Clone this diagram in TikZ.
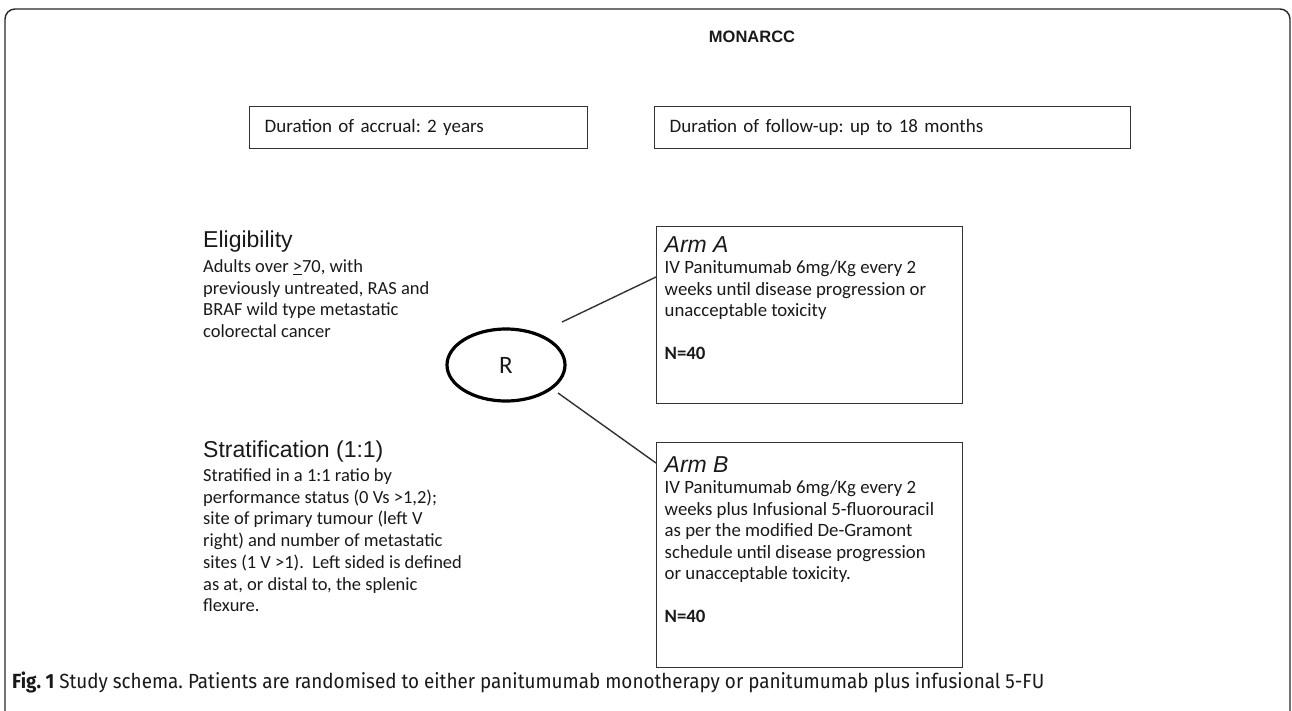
\documentclass[tikz,border=0pt]{standalone}
\usepackage{fontspec}
\setmainfont{Carlito}
\newfontfamily\arialfont{Liberation Sans}
\newfontfamily\capfont[FakeStretch=0.92]{Fira Sans}
\usetikzlibrary{shapes.geometric}
\tikzset{every node/.style={inner sep=0pt, text=black!90}}
\tikzset{box/.style={draw=black!80, line width=1.4pt, anchor=north west, align=left}}
\tikzset{blocktext/.style={anchor=north west, align=left, font=\fontsize{18.5}{21.7}\selectfont}}
\tikzset{link/.style={draw=black!80, line width=1.4pt}}
\newcommand{\headfont}{\arialfont\fontsize{23}{26}\selectfont}
\newcommand{\armtext}{\fontsize{18.8}{21.5}\selectfont}
\frenchspacing

\begin{document}
\begin{tikzpicture}[x=1pt, y=-1pt]
\useasboundingbox (0,0) rectangle (1292,710);
\draw[black!85, line width=1.4pt, rounded corners=10pt] (5,715) -- (5,9) -- (1290,9) -- (1290,715);

\node[font=\arialfont\bfseries\fontsize{16.5}{18}\selectfont] (title) at (752,37) {MONARCC};

\node[box, minimum height=42pt, text width=308pt, inner xsep=15pt, font=\fontsize{19}{22}\selectfont] (accrual) at (249,106) {Duration of accrual: 2 years};
\node[box, minimum height=42pt, text width=446pt, inner xsep=15pt, font=\fontsize{19}{22}\selectfont] (followup) at (654,106) {Duration of follow-up: up to 18 months};

\node[blocktext] (elig) at (203,231) {{\headfont Eligibility}\\[3pt]
Adults over \underline{>}70, with\\
previously untreated, RAS and\\
BRAF wild type metastatic\\
colorectal cancer};

\node[blocktext] (strat) at (203,441) {{\headfont Stratification (1:1)}\\[2pt]
Stratified in a 1:1 ratio by\\
performance status (0 Vs >1,2);\\
site of primary tumour (left V\\
right) and number of metastatic\\
sites (1 V >1).\ \ Left sided is defined\\
as at, or distal to, the splenic\\
flexure.};

\node[draw=black, line width=3.2pt, ellipse, minimum width=118pt, minimum height=72pt, font=\fontsize{25}{28}\selectfont] (rand) at (506,365) {R};

\node[box, inner xsep=8pt, inner ysep=9.5pt] (armA) at (656,226) {\parbox[c][158pt][t]{290pt}{\armtext
{\headfont\itshape Arm A}\\
IV Panitumumab 6mg/Kg every 2\\
weeks until disease progression or\\
unacceptable toxicity\\[21.5pt]
\textbf{N=40}}};

\node[box, inner xsep=8pt, inner ysep=13.5pt] (armB) at (656,442) {\parbox[c][198pt][t]{290pt}{\armtext
{\headfont\itshape Arm B}\\
IV Panitumumab 6mg/Kg every 2\\
weeks plus Infusional 5-fluorouracil\\
as per the modified De-Gramont\\
schedule until disease progression\\
or unacceptable toxicity.\\[21.5pt]
\textbf{N=40}}};

\coordinate (rA) at (562,322);
\coordinate (rB) at (558,393);
\draw[link] (rA) -- (armA.west |- 0,277);
\draw[link] (rB) -- (armB.west |- 0,463);

\node[anchor=west, font=\capfont\fontsize{20.5}{24}\selectfont] (caption) at (12,682) {\textbf{Fig. 1} Study schema. Patients are randomised to either panitumumab monotherapy or panitumumab plus infusional 5-FU};
\end{tikzpicture}
\end{document}
